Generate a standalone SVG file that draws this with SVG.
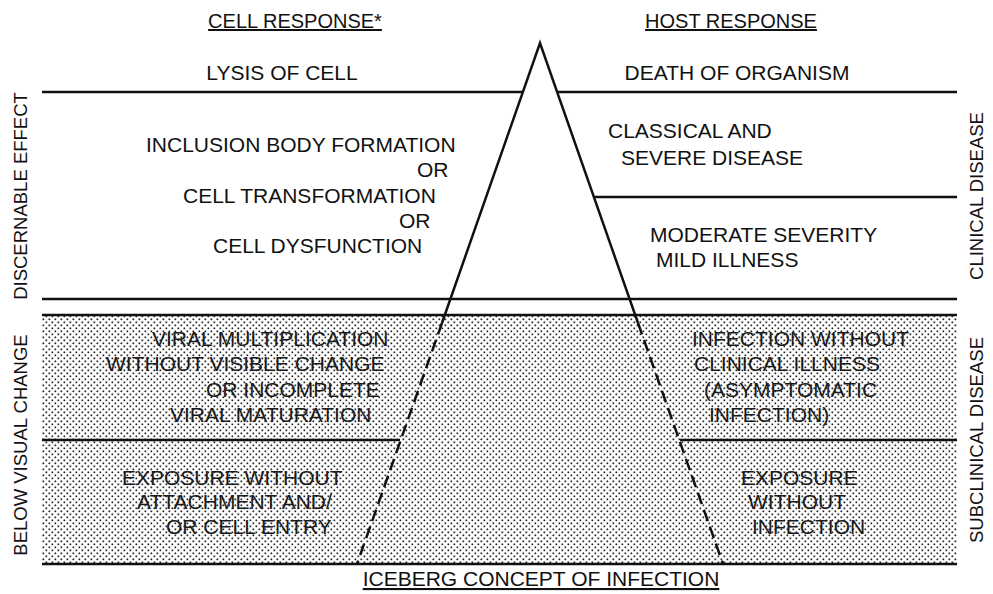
<svg xmlns="http://www.w3.org/2000/svg" width="993" height="594" viewBox="0 0 993 594">
<style>
text{font-family:"Liberation Sans",Arial,Helvetica,sans-serif;fill:#111;}
.t{font-size:21px;}
.h{font-size:20px;text-decoration:underline;}
.v{font-size:18.5px;text-anchor:middle;}
.s{fill:#1a1a1a;}
.ln{stroke:#111;stroke-width:2.5;fill:none;}
.dash{stroke:#111;stroke-width:2.5;fill:none;stroke-dasharray:12 6;}
</style>
<defs>
<pattern id="dots" width="6" height="6" patternUnits="userSpaceOnUse">
<rect x="0.5" y="0.5" width="1.7" height="1.7" fill="#222"/>
<rect x="3.5" y="3.5" width="1.7" height="1.7" fill="#222"/>
</pattern>
</defs>
<rect width="993" height="594" fill="#fff"/>
<rect x="42" y="315" width="915" height="249" fill="url(#dots)"/>

<g id="connectors">
<line class="ln" x1="42" y1="92" x2="523" y2="92"/>
<line class="ln" x1="557" y1="92" x2="957" y2="92"/>
<line class="ln" x1="595" y1="197" x2="957" y2="197"/>
<line class="ln" x1="42" y1="299" x2="957" y2="299"/>
<line class="ln" x1="42" y1="315" x2="957" y2="315"/>
<line class="ln" x1="42" y1="440" x2="400" y2="440"/>
<line class="ln" x1="680" y1="440" x2="957" y2="440"/>
<line class="ln" x1="42" y1="564" x2="957" y2="564" stroke-width="3"/>
<polyline class="ln" points="442,323 540,43 638,323"/>
<line class="dash" x1="442" y1="323" x2="357" y2="564"/>
<line class="dash" x1="638" y1="323" x2="723" y2="564"/>
</g>

<g id="headers">
<text class="h" x="295" y="28" text-anchor="middle">CELL RESPONSE*</text>
<text class="h" x="731" y="28" text-anchor="middle">HOST RESPONSE</text>
<text class="t" x="541" y="586" text-anchor="middle" text-decoration="underline">ICEBERG CONCEPT OF INFECTION</text>
</g>

<g id="side-labels">
<text class="v" transform="translate(27,196) rotate(-90)">DISCERNABLE EFFECT</text>
<text class="v" transform="translate(27,445) rotate(-90)">BELOW VISUAL CHANGE</text>
<text class="v" transform="translate(983,196) rotate(-90)">CLINICAL DISEASE</text>
<text class="v" transform="translate(983,440) rotate(-90)">SUBCLINICAL DISEASE</text>
</g>

<g id="lysis">
<text class="t" x="282" y="80" text-anchor="middle">LYSIS OF CELL</text>
</g>
<g id="death">
<text class="t" x="737" y="80" text-anchor="middle">DEATH OF ORGANISM</text>
</g>
<g id="inclusion">
<text class="t" x="146" y="152">INCLUSION BODY FORMATION</text>
<text class="t" x="417" y="177">OR</text>
<text class="t" x="183" y="203">CELL TRANSFORMATION</text>
<text class="t" x="399" y="228">OR</text>
<text class="t" x="213" y="253">CELL DYSFUNCTION</text>
</g>
<g id="classical">
<text class="t" x="608" y="138">CLASSICAL AND</text>
<text class="t" x="621" y="165">SEVERE DISEASE</text>
</g>
<g id="moderate">
<text class="t" x="650" y="242">MODERATE SEVERITY</text>
<text class="t" x="656" y="267">MILD ILLNESS</text>
</g>
<g id="viral">
<text class="t s" x="152" y="346">VIRAL MULTIPLICATION</text>
<text class="t s" x="106" y="371">WITHOUT VISIBLE CHANGE</text>
<text class="t s" x="206" y="397">OR INCOMPLETE</text>
<text class="t s" x="170" y="422">VIRAL MATURATION</text>
</g>
<g id="infection">
<text class="t s" x="692" y="346">INFECTION WITHOUT</text>
<text class="t s" x="694" y="371">CLINICAL ILLNESS</text>
<text class="t s" x="704" y="397">(ASYMPTOMATIC</text>
<text class="t s" x="709" y="422">INFECTION)</text>
</g>
<g id="exposure-cell">
<text class="t s" x="122" y="485">EXPOSURE WITHOUT</text>
<text class="t s" x="137" y="509">ATTACHMENT AND/</text>
<text class="t s" x="166" y="534">OR CELL ENTRY</text>
</g>
<g id="exposure-host">
<text class="t s" x="741" y="485">EXPOSURE</text>
<text class="t s" x="748" y="509">WITHOUT</text>
<text class="t s" x="752" y="534">INFECTION</text>
</g>
</svg>
